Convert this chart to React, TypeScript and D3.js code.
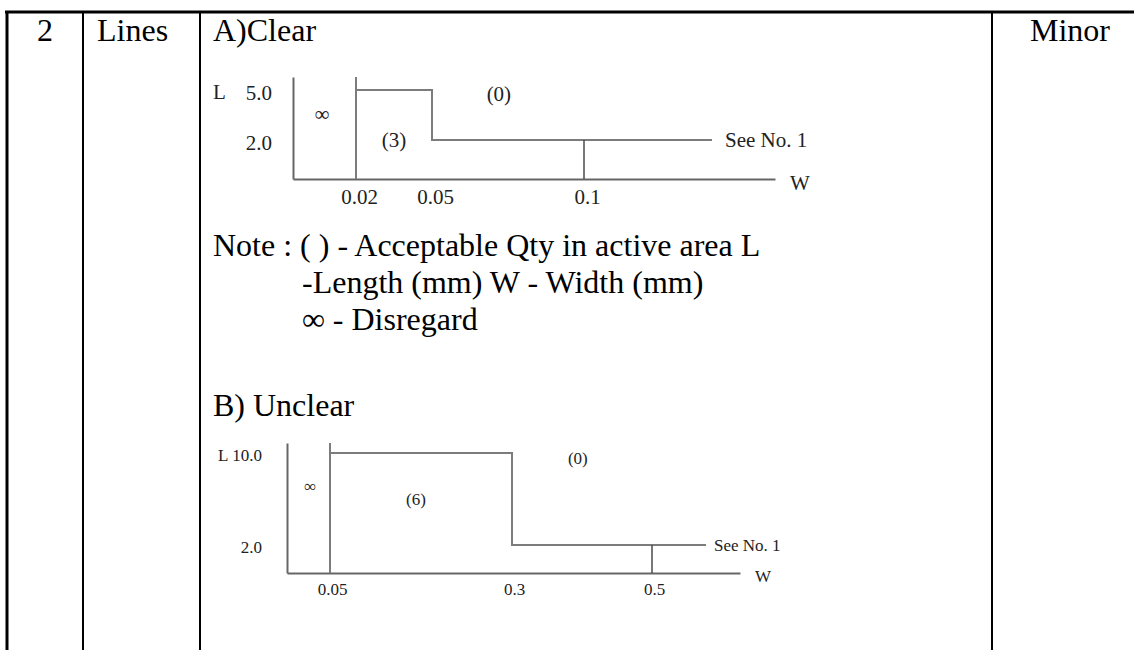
import React, { useEffect, useRef } from 'react';
import * as d3 from 'd3';

const width = 1134;
const height = 650;
const serif = '"Liberation Serif", "Times New Roman", serif';

// table row
const rowNo = '2';
const rowItem = 'Lines';
const rowClass = 'Minor';
const noteLines = [
    'Note : ( ) - Acceptable Qty in active area L',
    '-Length (mm) W - Width (mm)',
    '∞ - Disregard',
];

// A) Clear : width (mm) stops along the axis, length (mm) stops
const clearTitle = 'A)Clear';
const clearWStops = [0, 0.02, 0.05, 0.1, 0.2];
const clearLStops = [0, 2.0, 5.0, 5.8];
const clearWTicks = [0.02, 0.05, 0.1];
const clearLTicks = [5.0, 2.0];
const clearStep = [[0.02, 5.0], [0.05, 2.0], [0.167, 2.0]];
const clearBound = 0.02;
const clearRef = 0.1;
const clearRegions: [string, number, number][] = [['∞', 0.0092, 3.6], ['(3)', 0.035, 2.0], ['(0)', 0.072, 4.8]];

// B) Unclear
const unclearTitle = 'B) Unclear';
const unclearWStops = [0, 0.05, 0.3, 0.5, 0.65];
const unclearLStops = [0, 2.0, 10.0, 11.0];
const unclearWTicks = [0.05, 0.3, 0.5];
const unclearLTicks = [10.0, 2.0];
const unclearStep = [[0.05, 10.0], [0.3, 2.0], [0.592, 2.0]];
const unclearBound = 0.05;
const unclearRef = 0.5;
const unclearRegions: [string, number, number][] = [['∞', 0.027, 7.1], ['(6)', 0.168, 6.0], ['(0)', 0.394, 9.6]];

const drawChart = (svg: any, cfg: any) => {
    const x = d3.scaleLinear().domain(cfg.wStops).range(cfg.xRange);
    const y = d3.scaleLinear().domain(cfg.lStops).range(cfg.yRange);
    const y0 = y(0);
    const lineColor = '#7c7c7c';

    const g = svg.append('g');

    const xAxis = d3.axisBottom(x).tickValues(cfg.wTicks).tickSize(0).tickPadding(cfg.xPad)
        .tickFormat((d: any) => String(d));
    const xg = g.append('g').attr('transform', `translate(0, ${y0})`).call(xAxis);
    xg.select('.domain').attr('stroke', '#666').attr('stroke-width', 2);
    xg.selectAll('text').attr('font-family', serif).attr('font-size', cfg.fontSize).attr('fill', '#222')
        .attr('dx', cfg.xLabelShift);

    const yAxis = d3.axisLeft(y).tickValues(cfg.lTicks).tickSize(0).tickPadding(cfg.yPad)
        .tickFormat(d3.format('.1f'));
    const yg = g.append('g').attr('transform', `translate(${x(0)}, 0)`).call(yAxis);
    yg.select('.domain').attr('stroke', '#666').attr('stroke-width', 2);
    yg.selectAll('text').attr('font-family', serif).attr('font-size', cfg.fontSize).attr('fill', '#222')
        .attr('dy', '0.45em');

    // L letter beside the top length tick
    g.append('text')
        .attr('x', cfg.lLetterX)
        .attr('y', y(cfg.lTicks[0]))
        .attr('dy', '0.45em')
        .attr('font-family', serif).attr('font-size', cfg.fontSize).attr('fill', '#222')
        .text('L');

    // W letter at the end of the width axis
    g.append('text')
        .attr('x', x(cfg.wStops[cfg.wStops.length - 1]) + 15)
        .attr('y', y0)
        .attr('dy', '0.5em')
        .attr('font-family', serif).attr('font-size', cfg.fontSize).attr('fill', '#222')
        .text('W');

    // disregard boundary
    g.append('line')
        .attr('x1', x(cfg.bound)).attr('x2', x(cfg.bound))
        .attr('y1', y0).attr('y2', y(cfg.lStops[cfg.lStops.length - 1]))
        .attr('stroke', lineColor).attr('stroke-width', 2);

    // acceptance step
    const step = d3.line().x((d: any) => x(d[0])).y((d: any) => y(d[1])).curve(d3.curveStepAfter);
    g.append('path')
        .attr('d', step(cfg.step))
        .attr('fill', 'none')
        .attr('stroke', lineColor)
        .attr('stroke-width', 2);

    // reference marker down to axis
    g.append('line')
        .attr('x1', x(cfg.ref)).attr('x2', x(cfg.ref))
        .attr('y1', y0).attr('y2', y(cfg.step[cfg.step.length - 1][1]))
        .attr('stroke', '#4a4a4a').attr('stroke-width', 1.5);

    const last = cfg.step[cfg.step.length - 1];
    g.append('text')
        .attr('x', x(last[0]) + cfg.seeGap)
        .attr('y', y(last[1]))
        .attr('dy', '0.35em')
        .attr('font-family', serif).attr('font-size', cfg.fontSize).attr('fill', '#222')
        .text('See No. 1');

    g.selectAll('text.region')
        .data(cfg.regions)
        .join('text')
        .attr('class', 'region')
        .attr('x', (d: any) => x(d[1]))
        .attr('y', (d: any) => y(d[2]))
        .attr('dy', '0.35em')
        .attr('text-anchor', 'middle')
        .attr('font-family', serif).attr('font-size', cfg.fontSize).attr('fill', '#222')
        .text((d: any) => d[0]);
};

const App = () => {
    const ref = useRef<SVGSVGElement>(null);

    useEffect(() => {
        if (!ref.current) return;
        const svg = d3.select(ref.current);
        svg.selectAll('*').remove();

        svg.append('rect').attr('width', width).attr('height', height).attr('fill', '#fff');

        // table grid
        svg.append('line').attr('x1', 5).attr('x2', width).attr('y1', 12).attr('y2', 12)
            .attr('stroke', '#000').attr('stroke-width', 3);
        svg.append('line').attr('x1', 7).attr('x2', 7).attr('y1', 11).attr('y2', height)
            .attr('stroke', '#000').attr('stroke-width', 3);
        [83, 200, 992].forEach(cx => {
            svg.append('line').attr('x1', cx).attr('x2', cx).attr('y1', 12).attr('y2', height)
                .attr('stroke', '#000').attr('stroke-width', 2);
        });

        const big = (tx: number, ty: number, s: string, anchor = 'start') =>
            svg.append('text').attr('x', tx).attr('y', ty).attr('text-anchor', anchor)
                .attr('font-family', serif).attr('font-size', 32).attr('fill', '#000').text(s);

        big(45, 41, rowNo, 'middle');
        big(97, 41, rowItem);
        big(1030, 41, rowClass);
        big(213, 41, clearTitle);
        noteLines.forEach((s, i) => big(i === 0 ? 213 : 302, 256 + i * 37, s));
        big(213, 416, unclearTitle);

        drawChart(svg, {
            wStops: clearWStops, lStops: clearLStops, wTicks: clearWTicks, lTicks: clearLTicks,
            step: clearStep, bound: clearBound, ref: clearRef, regions: clearRegions,
            xRange: [293, 356, 432, 584, 775], yRange: [179, 140, 90, 77],
            fontSize: 21, xPad: 10, yPad: 21, xLabelShift: 3, lLetterX: 213, seeGap: 13,
        });

        drawChart(svg, {
            wStops: unclearWStops, lStops: unclearLStops, wTicks: unclearWTicks, lTicks: unclearLTicks,
            step: unclearStep, bound: unclearBound, ref: unclearRef, regions: unclearRegions,
            xRange: [287, 330, 512, 652, 740], yRange: [573, 545, 453, 443],
            fontSize: 17, xPad: 10, yPad: 25, xLabelShift: 2, lLetterX: 218, seeGap: 8,
        });
    }, []);

    return (
        <svg ref={ref} width={width} height={height}
            style={{ position: 'absolute', left: 0, top: 0, display: 'block' }} />
    );
};

export default App;
